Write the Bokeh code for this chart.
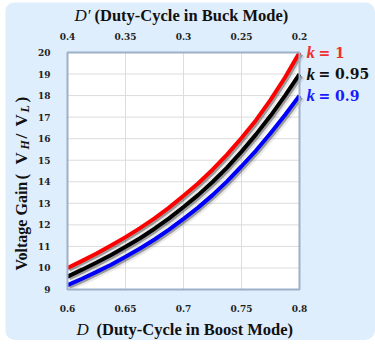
from bokeh.plotting import figure
from bokeh.models import ColumnDataSource, Range1d, LinearAxis, FixedTicker, Label
from bokeh.transform import dodge
from bokeh.embed import file_html
from bokeh.resources import INLINE
import math

# ---- data ----
duty_boost = [0.6, 0.6125, 0.625, 0.6375, 0.65, 0.6625, 0.675, 0.6875, 0.7,
              0.7125, 0.725, 0.7375, 0.75, 0.7625, 0.775, 0.7875, 0.8]
gain_k1 = [10.0, 10.33, 10.67, 11.04, 11.43, 11.85, 12.3, 12.8, 13.35,
           13.92, 14.56, 15.26, 16.03, 16.86, 17.8, 18.84, 20.0]
gain_k095 = [9.6, 9.92, 10.25, 10.6, 10.98, 11.38, 11.82, 12.3, 12.83,
             13.38, 13.99, 14.66, 15.4, 16.2, 17.06, 18.0, 19.0]
gain_k09 = [9.2, 9.5, 9.82, 10.15, 10.52, 10.9, 11.32, 11.78, 12.28,
            12.8, 13.38, 14.02, 14.72, 15.45, 16.25, 17.1, 18.0]
k_labels = ["1", "0.95", "0.9"]

x_ticks = [0.6, 0.65, 0.7, 0.75, 0.8]
x_tick_labels = ["0.6", "0.65", "0.7", "0.75", "0.8"]
top_ticks = [0.4, 0.35, 0.3, 0.25, 0.2]
top_tick_labels = ["0.4", "0.35", "0.3", "0.25", "0.2"]
y_ticks = list(range(9, 21))

X_MIN, X_MAX = 0.6, 0.8
Y_MIN, Y_MAX = 9, 20
DP_START, DP_END = 0.4, 0.2

# ---- layout (canvas pixels) ----
W, H = 370, 338
L, R, T, B = 62, 294, 50, 287
sx = (X_MAX - X_MIN) / (R - L)
sy = (Y_MAX - Y_MIN) / (B - T)
sd = (DP_START - DP_END) / (R - L)

PANEL = "#dfeefc"
SERIF = "Liberation Serif"
TICKFONT = "DejaVu Serif"

p = figure(width=W, height=H, output_backend="svg", toolbar_location=None,
           x_range=Range1d(X_MIN - L * sx, X_MAX + (W - R) * sx),
           y_range=Range1d(Y_MIN - (H - B) * sy, Y_MAX + T * sy),
           min_border=0, min_border_left=0, min_border_right=0,
           min_border_top=0, min_border_bottom=0)
p.styles = {"margin-left": "5px", "margin-top": "2px", "border-radius": "10px", "overflow": "hidden"}
p.border_fill_color = PANEL
p.background_fill_color = PANEL
p.outline_line_color = None
p.grid.visible = False

p.extra_x_ranges = {"dprime": Range1d(DP_START + L * sd, DP_END - (W - R) * sd)}

def style_axis(ax, standoff):
    ax.axis_line_color = None
    ax.major_tick_line_color = None
    ax.minor_tick_line_color = None
    ax.major_tick_out = 0
    ax.major_tick_in = 0
    ax.major_label_standoff = standoff
    ax.major_label_text_font = TICKFONT
    ax.major_label_text_font_style = "bold"
    ax.major_label_text_font_size = "9px"
    ax.major_label_text_color = "#222222"

xa = p.xaxis[0]
xa.ticker = FixedTicker(ticks=x_ticks)
xa.major_label_overrides = dict(zip(x_ticks, x_tick_labels))
xa.fixed_location = Y_MIN
style_axis(xa, 15)
ya = p.yaxis[0]
ya.ticker = FixedTicker(ticks=y_ticks)
ya.fixed_location = X_MIN
style_axis(ya, 17)

top_axis = LinearAxis(x_range_name="dprime", ticker=FixedTicker(ticks=top_ticks),
                      major_label_overrides=dict(zip(top_ticks, top_tick_labels)),
                      fixed_location=Y_MAX)
style_axis(top_axis, 13)
p.add_layout(top_axis, "above")

# plot box and grid
p.quad(left=[X_MIN], right=[X_MAX], bottom=[Y_MIN], top=[Y_MAX],
       fill_color="white", line_color=None)
p.segment(x0=x_ticks, x1=x_ticks, y0=[Y_MIN] * len(x_ticks), y1=[Y_MAX] * len(x_ticks),
          line_color="#dcdcdc", line_width=1)
p.segment(x0=[X_MIN] * len(y_ticks), x1=[X_MAX] * len(y_ticks), y0=y_ticks, y1=y_ticks,
          line_color="#dcdcdc", line_width=1)

series = [
    (gain_k09, "#0000ff", "#1a1aff", k_labels[2]),
    (gain_k095, "#000000", "#111111", k_labels[1]),
    (gain_k1, "#ff0000", "#f03030", k_labels[0]),
]

for gains, color, tcolor, klab in series:
    src = ColumnDataSource(dict(x=duty_boost, y=gains))
    p.line(x=dodge("x", 0.0022, range=p.x_range), y=dodge("y", -0.12, range=p.y_range),
           source=src, line_color="#555555", line_alpha=0.13, line_width=6)
    p.line(x=dodge("x", 0.0014, range=p.x_range), y=dodge("y", -0.08, range=p.y_range),
           source=src, line_color="#333333", line_alpha=0.42, line_width=4)
    p.line(x="x", y="y", source=src, line_color=color, line_width=4)
    p.add_layout(Label(x=duty_boost[-1], y=gains[-1], x_offset=7, text="k",
                       text_font=SERIF, text_font_style="bold italic", text_font_size="17px",
                       text_color=tcolor, text_baseline="middle", text_align="left"))
    p.add_layout(Label(x=duty_boost[-1], y=gains[-1], x_offset=19, text="= " + klab,
                       text_font=TICKFONT, text_font_style="bold", text_font_size="14px",
                       text_color=tcolor, text_baseline="middle", text_align="left"))

p.quad(left=[X_MIN], right=[X_MAX], bottom=[Y_MIN], top=[Y_MAX],
       fill_color=None, line_color="#9cb1c9", line_width=2)

def lab(x, y, text, style="bold", size="16.5px", angle=0.0, font=SERIF):
    p.add_layout(Label(x=x, y=y, x_units="screen", y_units="screen", text=text,
                       text_font=font, text_font_style=style, text_font_size=size,
                       text_color="#111111", text_baseline="middle", text_align="left",
                       angle=angle))

lab(69, H - 12.5, "D\u2032", style="italic", size="17px")
lab(89, H - 12.5, "(Duty-Cycle in Buck Mode)")
lab(71, H - 327, "D", style="italic", size="17px")
lab(91, H - 327, "(Duty-Cycle in Boost Mode)")

a = math.pi / 2
lab(15.5, 70, "Voltage Gain", size="16px", angle=a)
lab(15.5, 161, "(", size="17px", angle=a)
lab(15.5, 176, "V", size="17px", angle=a)
lab(19.5, 191, "H", style="bold italic", size="12px", angle=a)
lab(15.5, 202, "/", size="17px", angle=a)
lab(15.5, 214, "V", size="17px", angle=a)
lab(19.5, 228, "L", style="bold italic", size="12px", angle=a)
lab(15.5, 238, ")", size="17px", angle=a)

open("out.html", "w").write(file_html(p, INLINE))
